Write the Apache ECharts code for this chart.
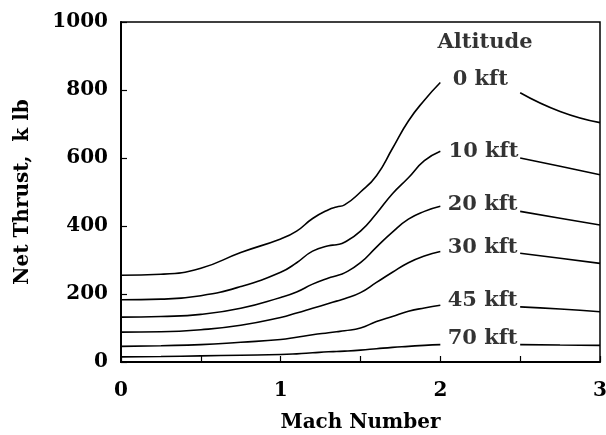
<!DOCTYPE html>
<html>
<head>
<meta charset="utf-8">
<script src="https://cdn.jsdelivr.net/npm/echarts@6/dist/echarts.min.js"></script>
<style>html,body{margin:0;padding:0;background:#fff}#c{width:606px;height:435px}</style>
</head>
<body>
<div id="c"></div>
<script>
// Mach grid for left (before label) and right (after label) segments
var machLeft = [0, 0.25, 0.5, 0.75, 1.0, 1.1, 1.2, 1.3, 1.35, 1.4, 1.5, 1.6, 1.7, 1.8, 1.9, 2.0];
var machRight = [2.5, 2.75, 3.0];

var alt0Left  = [255, 258, 276, 322, 362, 385, 422, 448, 456, 462, 500, 548, 628, 709, 770, 822];
var alt0Right = [792, 737, 704];
var alt10Left  = [183, 185, 195, 222, 264, 292, 326, 342, 345, 352, 385, 437, 495, 542, 592, 620];
var alt10Right = [600, 576, 551];
var alt20Left  = [132, 134, 140, 158, 190, 206, 229, 247, 254, 262, 292, 338, 382, 420, 443, 458];
var alt20Right = [443, 423, 403];
var alt30Left  = [88, 89, 95, 108, 131, 144, 158, 172, 179, 186, 204, 234, 264, 292, 312, 325];
var alt30Right = [320, 305, 290];
var alt45Left  = [46, 48, 51, 58, 66, 73, 80, 86, 89, 92, 100, 119, 134, 149, 159, 167];
var alt45Right = [162, 156, 148];
var alt70Left  = [15, 16, 18, 20, 22, 24, 27, 30, 31, 32, 35, 39, 43, 46, 49, 51];
var alt70Right = [51, 50, 49];

var labelNames = ['Altitude', '0 kft', '10 kft', '20 kft', '30 kft', '45 kft', '70 kft'];
var labelMach  = [2.28, 2.25, 2.27, 2.265, 2.265, 2.265, 2.265];
var labelThrust = [940, 831, 619, 462, 338, 182, 70];

var xTicks = [0, 1, 2, 3];
var yTicks = [0, 200, 400, 600, 800, 1000];

var FONT = 'DejaVu Serif';

function build(left, right) {
  var d = machLeft.map(function (m, i) { return [m, left[i]]; });
  d.push([2.25, '-']);
  machRight.forEach(function (m, i) { d.push([m, right[i]]); });
  return d;
}

var curves = [
  build(alt0Left, alt0Right),
  build(alt10Left, alt10Right),
  build(alt20Left, alt20Right),
  build(alt30Left, alt30Right),
  build(alt45Left, alt45Right),
  build(alt70Left, alt70Right)
];

var series = curves.map(function (d) {
  return {
    type: 'line', data: d, smooth: 0.5, connectNulls: false,
    showSymbol: false, symbol: 'none', silent: true,
    lineStyle: { color: '#000', width: 1.6 }
  };
});

series.push({
  type: 'scatter', symbolSize: 0, silent: true,
  data: labelNames.map(function (n, i) { return { name: n, value: [labelMach[i], labelThrust[i]] }; }),
  label: {
    show: true, position: 'inside', formatter: '{b}',
    fontFamily: FONT, fontWeight: 'bold', fontSize: 21, color: '#000'
  }
});

var chart = echarts.init(document.getElementById('c'), null, { renderer: 'canvas' });
chart.setOption({
  animation: false,
  backgroundColor: '#fff',
  grid: { left: 121, right: 6, top: 22, bottom: 73, containLabel: false, outerBoundsMode: 'none',
          show: true, borderColor: '#000', borderWidth: 1.5, backgroundColor: 'transparent' },
  xAxis: {
    type: 'value', min: 0, max: 3, interval: 0.5,
    name: 'Mach Number', nameLocation: 'middle', nameGap: 51,
    nameTextStyle: { fontFamily: FONT, fontWeight: 'bold', fontSize: 20, color: '#000' },
    axisLine: { show: true, lineStyle: { color: '#000', width: 2 } },
    axisTick: { show: true, inside: true, length: 6, lineStyle: { color: '#000', width: 1.2 } },
    axisLabel: {
      margin: 19, fontFamily: FONT, fontWeight: 'bold', fontSize: 20, color: '#000',
      formatter: function (v) { return xTicks.indexOf(v) >= 0 ? String(v) : ''; }
    },
    splitLine: { show: false }
  },
  yAxis: {
    type: 'value', min: 0, max: 1000, interval: 200,
    name: 'Net Thrust,  k lb', nameLocation: 'middle', nameGap: 88,
    nameTextStyle: { fontFamily: FONT, fontWeight: 'bold', fontSize: 20, color: '#000' },
    axisLine: { show: true, lineStyle: { color: '#000', width: 2 } },
    axisTick: { show: true, inside: true, length: 6, lineStyle: { color: '#000', width: 1.2 } },
    axisLabel: {
      margin: 13, fontFamily: FONT, fontWeight: 'bold', fontSize: 20, color: '#000',
      formatter: function (v) { return yTicks.indexOf(v) >= 0 ? String(v) : ''; }
    },
    splitLine: { show: false }
  },
  series: series
});
</script>
</body>
</html>
